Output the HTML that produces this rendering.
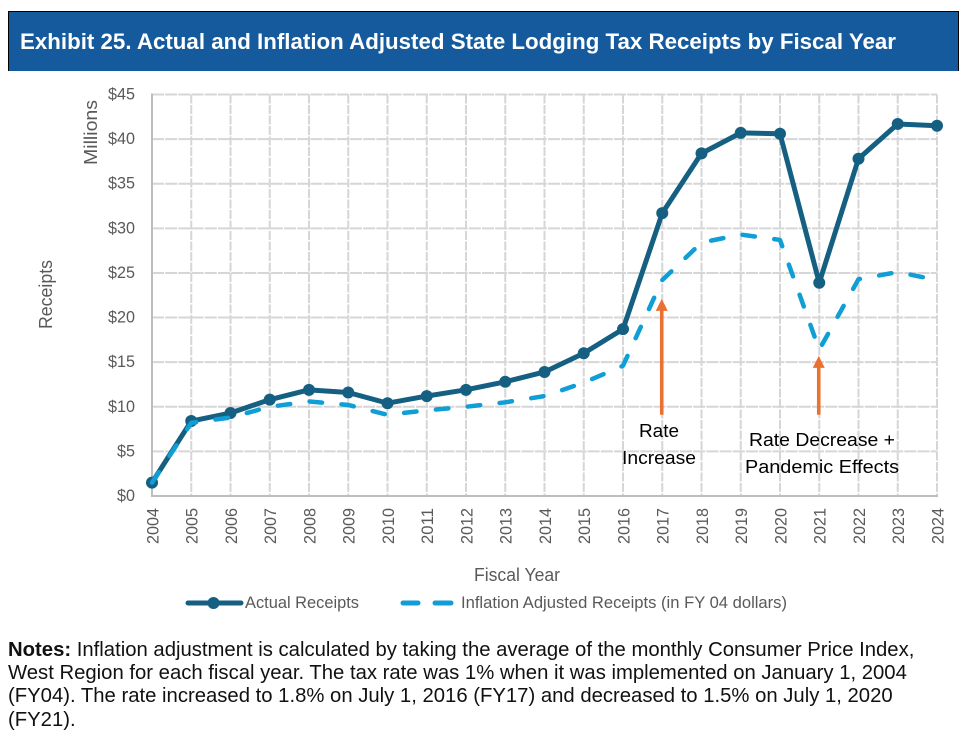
<!DOCTYPE html>
<html lang="en">
<head>
<meta charset="utf-8">
<title>Exhibit 25</title>
<style>
html,body{margin:0;padding:0;background:#fff;width:967px;height:738px;overflow:hidden}
body{position:relative;font-family:"Liberation Sans",sans-serif}
#title{position:absolute;left:8px;top:11px;width:951px;height:60px;box-sizing:border-box;background:#155a9c;border-top:1px solid #000;border-left:1px solid #000;border-right:1px solid #000;color:#fff;font-weight:bold;font-size:22.3px;line-height:59px;padding-left:11px;white-space:nowrap}
#notes{position:absolute;left:8px;top:638.5px;width:950px;font-size:20.3px;line-height:23.4px;color:#111;white-space:nowrap}
svg{position:absolute;left:0;top:0}
</style>
</head>
<body>
<div id="title">Exhibit 25. Actual and Inflation Adjusted State Lodging Tax Receipts by Fiscal Year</div>
<svg id="chart" width="967" height="738" viewBox="0 0 967 738"></svg>
<div id="notes"><b>Notes:</b> Inflation adjustment is calculated by taking the average of the monthly Consumer Price Index,<br>West Region for each fiscal year. The tax rate was 1% when it was implemented on January 1, 2004<br>(FY04). The rate increased to 1.8% on July 1, 2016 (FY17) and decreased to 1.5% on July 1, 2020<br>(FY21).</div>
<script>
const years = [2004,2005,2006,2007,2008,2009,2010,2011,2012,2013,2014,2015,2016,2017,2018,2019,2020,2021,2022,2023,2024];
const actualReceipts = [1.5,8.4,9.3,10.8,11.9,11.6,10.4,11.2,11.9,12.8,13.9,16.0,18.7,31.7,38.4,40.7,40.6,23.9,37.8,41.7,41.5];
const inflationAdjusted = [1.5,8.2,8.8,10.0,10.6,10.2,9.1,9.6,10.0,10.5,11.2,12.7,14.6,24.2,28.4,29.3,28.7,16.4,24.3,25.1,24.2];
const yTicks = [0,5,10,15,20,25,30,35,40,45];
const arrowYears = [2017,2021];
const arrowTips = [22.1,15.7];
const arrowBase = 9.1;

const NS = 'http://www.w3.org/2000/svg';
const svg = document.getElementById('chart');
const left = 152, right = 937, top_ = 94.5, bottom = 496;
const xScale = y => left + (y - years[0]) / (years[years.length-1] - years[0]) * (right - left);
const yScale = v => bottom - v / yTicks[yTicks.length-1] * (bottom - top_);
function make(tag, attrs, parent){
  const el = document.createElementNS(NS, tag);
  for (const k in attrs) el.setAttribute(k, attrs[k]);
  (parent || svg).appendChild(el);
  return el;
}
function label(str, attrs, name){
  const el = make('text', Object.assign({'font-family':'"Liberation Sans",sans-serif', lengthAdjust:'spacingAndGlyphs'}, attrs));
  el.textContent = str;
  
  
  return el;
}
const gridCol = '#d6d6d6', axisCol = '#bdbdbd', tickCol = '#595959', actualCol = '#156082', inflCol = '#0f9ed5', arrowCol = '#e97132';

const gridG = make('g', {});


yTicks.forEach(t => {
  if (t === 0) return;
  make('line', {x1:left, x2:right, y1:yScale(t), y2:yScale(t), stroke:gridCol, 'stroke-width':2, 'stroke-dasharray':'12 1.2'}, gridG);
});
years.forEach((y, i) => {
  if (i === 0) return;
  make('line', {x1:xScale(y), x2:xScale(y), y1:top_, y2:bottom, stroke:gridCol, 'stroke-width':2, 'stroke-dasharray':'9 1.5'}, gridG);
});
const xAxis = make('line', {x1:left-1, x2:right+1, y1:bottom, y2:bottom, stroke:axisCol, 'stroke-width':2});


const yAxis = make('line', {x1:left, x2:left, y1:top_-1, y2:bottom, stroke:axisCol, 'stroke-width':2});



yTicks.forEach(t => {
  const s = '$' + t;
  label(s, {x:135, y:yScale(t)+5, 'text-anchor':'end', 'font-size':17, fill:tickCol, textLength:s.length*9}, 'y-tick-label');
});
years.forEach(y => {
  const x = xScale(y) + 6.3;
  label(String(y), {x:x, y:508, transform:'rotate(-90 ' + x + ' 508)', 'text-anchor':'end', 'font-size':17, fill:tickCol, textLength:36}, 'x-tick-label');
});

const pts = arr => arr.map((v, i) => xScale(years[i]) + ',' + yScale(v)).join(' ');
const actualLine = make('polyline', {points:pts(actualReceipts), fill:'none', stroke:actualCol, 'stroke-width':5, 'stroke-linejoin':'round'});


actualReceipts.forEach((v, i) => {
  const c = make('circle', {cx:xScale(years[i]), cy:yScale(v), r:6, fill:actualCol});
  
  
});
const inflLine = make('polyline', {points:pts(inflationAdjusted), fill:'none', stroke:inflCol, 'stroke-width':4.5, 'stroke-linecap':'round', 'stroke-linejoin':'round', 'stroke-dasharray':'12.5 19.5'});



arrowYears.forEach((yr, i) => {
  const x = xScale(yr) - 0.5;
  const tip = yScale(arrowTips[i]);
  const shaft = make('line', {x1:x, x2:x, y1:yScale(arrowBase), y2:tip+10, stroke:arrowCol, 'stroke-width':3.6});
  
  
  const head = make('polygon', {points:(x-6)+','+(tip+12)+' '+(x+6)+','+(tip+12)+' '+x+','+tip, fill:arrowCol});
  
  
});

label('Rate', {x:659, y:437, 'text-anchor':'middle', 'font-size':18.5, fill:'#000', textLength:40}, 'rate-increase-annotation-line-1');
label('Increase', {x:659, y:464, 'text-anchor':'middle', 'font-size':18.5, fill:'#000', textLength:74}, 'rate-increase-annotation-line-2');
label('Rate Decrease +', {x:822, y:446, 'text-anchor':'middle', 'font-size':18.5, fill:'#000', textLength:146}, 'rate-decrease-annotation-line-1');
label('Pandemic Effects', {x:822, y:473, 'text-anchor':'middle', 'font-size':18.5, fill:'#000', textLength:154}, 'rate-decrease-annotation-line-2');

label('Millions', {x:0, y:0, transform:'translate(97 132.5) rotate(-90)', 'text-anchor':'middle', 'font-size':18, fill:tickCol, textLength:65}, 'y-axis-units');
label('Receipts', {x:0, y:0, transform:'translate(52 294.5) rotate(-90)', 'text-anchor':'middle', 'font-size':18, fill:tickCol, textLength:69}, 'y-axis-title');
label('Fiscal Year', {x:517, y:581, 'text-anchor':'middle', 'font-size':18, fill:tickCol, textLength:86}, 'x-axis-title');

const legA = make('g', {});


make('line', {x1:188, x2:241, y1:603, y2:603, stroke:actualCol, 'stroke-width':5, 'stroke-linecap':'round'}, legA);
make('circle', {cx:213.5, cy:603, r:6, fill:actualCol}, legA);
label('Actual Receipts', {x:245, y:608, 'font-size':17, fill:tickCol, textLength:114}, 'legend-label-actual');

const legB = make('g', {});


make('line', {x1:403, x2:418, y1:603, y2:603, stroke:inflCol, 'stroke-width':5, 'stroke-linecap':'round'}, legB);
make('line', {x1:435, x2:451, y1:603, y2:603, stroke:inflCol, 'stroke-width':5, 'stroke-linecap':'round'}, legB);
label('Inflation Adjusted Receipts (in FY 04 dollars)', {x:461, y:608, 'font-size':17, fill:tickCol, textLength:326}, 'legend-label-inflation');
</script>
</body>
</html>
